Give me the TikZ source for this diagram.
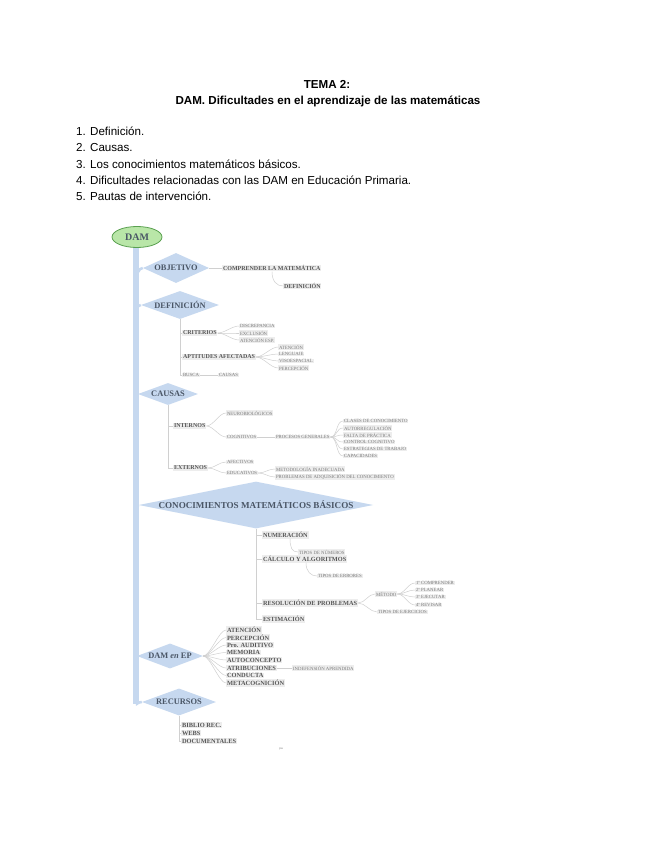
\documentclass[tikz,border=0pt]{standalone}
\usepackage{fontspec}
\setmainfont{Liberation Sans}
\newfontfamily\diafont{Liberation Serif}
\usetikzlibrary{shapes.geometric}
\definecolor{blueL}{HTML}{C6D8EF}
\definecolor{greenF}{HTML}{B9E6A8}
\definecolor{greenD}{HTML}{5AA050}
\definecolor{diatxt}{HTML}{4A5666}
\definecolor{lbfill}{HTML}{EDEDED}
\definecolor{lbtxt}{HTML}{555555}
\definecolor{lbtxtl}{HTML}{7A7A7A}
\definecolor{lncol}{HTML}{D0D0D0}
\newcommand\fanlink[2]{\draw[conn] (#1.east) .. controls +(7,0) and +(-7,0) .. (#2.west);}
\newcommand\stublink[2]{\draw[conn] (#1.south |- #2.west) -- (#2.west);}
\begin{document}
\begin{tikzpicture}[x=1pt,y=-1pt,
 head/.style={font=\fontsize{11.6}{13}\selectfont\bfseries, inner sep=0},
 item/.style={font=\fontsize{11.6}{13}\selectfont, anchor=west, inner sep=0},
 dia/.style={diamond, fill=blueL, draw=none, inner sep=0, text=diatxt, font=\diafont\bfseries\fontsize{8.4}{9}\selectfont},
 barbox/.style={rectangle, fill=blueL, draw=none, inner sep=0, minimum width=6.5},
 l1/.style={anchor=west, fill=lbfill, text=lbtxt, inner sep=0.8pt, font=\diafont\bfseries\fontsize{6}{7}\selectfont},
 l1b/.style={anchor=west, fill=lbfill, text=lbtxt, inner sep=0.8pt, font=\diafont\bfseries\fontsize{6.3}{7}\selectfont},
 l1c/.style={anchor=west, fill=lbfill, text=lbtxt, inner sep=0.8pt, font=\diafont\bfseries\fontsize{6.4}{7}\selectfont},
 l2/.style={anchor=west, fill=lbfill, text=lbtxtl, inner sep=0.8pt, font=\diafont\fontsize{4.8}{5}\selectfont},
 conn/.style={draw=lncol, line width=0.5pt},
 branch/.style={draw=blueL, line width=2.5pt},
]
\useasboundingbox[fill=white] (0,0) rectangle (655,848);

% header
\node[head] (t1) at (327,84) {TEMA 2:};
\node[head] (t2) at (328,101) {DAM. Dificultades en el aprendizaje de las matemáticas};
\node[item] (i1) at (76,131) {1. Definición.};
\node[item] (i2) at (76,147.5) {2. Causas.};
\node[item] (i3) at (76,164) {3. Los conocimientos matemáticos básicos.};
\node[item] (i4) at (76,180) {4. Dificultades relacionadas con las DAM en Educación Primaria.};
\node[item] (i5) at (76,196) {5. Pautas de intervención.};

% spine
\node[barbox, minimum height=457] (bar) at (136,475.5) {};
\node[ellipse, fill=greenF, draw=greenD, line width=0.8pt, minimum width=50, minimum height=21, inner sep=0, text=diatxt, font=\diafont\bfseries\fontsize{10}{11}\selectfont] (dam) at (137,237) {DAM};

% diamonds
\node[dia, shape aspect=2.2, minimum width=66, minimum height=30] (obj) at (176,268) {OBJETIVO};
\node[dia, shape aspect=2.7, minimum width=78, minimum height=28] (def) at (180,305) {DEFINICIÓN};
\node[dia, shape aspect=2.6, minimum width=60, minimum height=22] (cau) at (168,394) {CAUSAS};
\node[dia, shape aspect=5, minimum width=230, minimum height=46, font=\diafont\bfseries\fontsize{9.1}{10}\selectfont] (con) at (256,505) {CONOCIMIENTOS MATEMÁTICOS BÁSICOS};
\node[dia, shape aspect=2.67, minimum width=66, minimum height=25] (dep) at (170,656) {DAM \textit{en} EP};
\node[dia, shape aspect=2.77, minimum width=74, minimum height=27] (rec) at (179,702) {RECURSOS};

% branches from the spine
\draw[branch] (bar.center |- obj.south) .. controls +(0,-9) and +(-4,0) .. (obj.west);
\draw[branch] (bar.center |- def.south) .. controls +(0,-8) and +(-4,0) .. (def.west);
\draw[branch] (bar.center |- cau.south) .. controls +(0,-6) and +(-3,0) .. (cau.west);
\draw[branch] (bar.center |- con.south) .. controls +(0,-14) and +(-5,0) .. (con.west);
\draw[branch] (bar.center |- dep.south) .. controls +(0,-7) and +(-3,0) .. (dep.west);
\draw[branch] (bar.south) .. controls +(0,1) and +(-4,0) .. (rec.west);

% OBJETIVO
\node[l1] (ob1) at (222,268) {COMPRENDER LA MATEMÁTICA};
\node[l1] (ob2) at (283,286) {DEFINICIÓN};
\draw[conn] (obj.east) -- (ob1.west);
\draw[conn] ([xshift=50pt]ob1.south west) .. controls +(0,10) and +(-6,0) .. (ob2.west);

% DEFINICION
\node[l1] (cri) at (182,333) {CRITERIOS};
\node[l2] (cr1) at (239,326) {DISCREPANCIA};
\node[l2] (cr2) at (239,333) {EXCLUSIÓN};
\node[l2] (cr3) at (239,340) {ATENCIÓN ESP.};
\node[l1] (apt) at (182,357) {APTITUDES AFECTADAS};
\node[l2] (ap1) at (278,347) {ATENCIÓN};
\node[l2] (ap2) at (278,354) {LENGUAJE};
\node[l2] (ap3) at (278,361) {VISOESPACIAL};
\node[l2] (ap4) at (278,368) {PERCEPCIÓN};
\node[l2] (bus) at (182,375) {BUSCA};
\node[l2] (bca) at (218,375) {CAUSAS};
\draw[conn] (def.south) -- (def.south |- bus.west) -- (bus.west);
\stublink{def}{cri}
\stublink{def}{apt}
\fanlink{cri}{cr1}\fanlink{cri}{cr2}\fanlink{cri}{cr3}
\fanlink{apt}{ap1}\fanlink{apt}{ap2}\fanlink{apt}{ap3}\fanlink{apt}{ap4}
\draw[conn] (bus.east) -- (bca.west);

% CAUSAS
\node[l1] (int) at (173,426) {INTERNOS};
\node[l2] (neu) at (226,413) {NEUROBIOLÓGICOS};
\node[l2] (cog) at (226,437) {COGNITIVOS};
\node[l2] (pro) at (275,437) {PROCESOS GENERALES};
\node[l2] (p1) at (343,421) {CLASES DE CONOCIMIENTO};
\node[l2] (p2) at (343,428) {AUTORREGULACIÓN};
\node[l2] (p3) at (343,435) {FALTA DE PRÁCTICA};
\node[l2] (p4) at (343,442) {CONTROL COGNITIVO};
\node[l2] (p5) at (343,449) {ESTRATEGIAS DE TRABAJO};
\node[l2] (p6) at (343,456) {CAPACIDADES};
\node[l1] (ext) at (173,468) {EXTERNOS};
\node[l2] (afe) at (226,462) {AFECTIVOS};
\node[l2] (edu) at (226,473) {EDUCATIVOS};
\node[l2] (ed1) at (275,469) {METODOLOGÍA INADECUADA};
\node[l2] (ed2) at (275,477) {PROBLEMAS DE ADQUISICIÓN DEL CONOCIMIENTO};
\draw[conn] (cau.south) -- (cau.south |- ext.west) -- (ext.west);
\stublink{cau}{int}
\fanlink{int}{neu}\fanlink{int}{cog}
\draw[conn] (cog.east) -- (pro.west);
\fanlink{pro}{p1}\fanlink{pro}{p2}\fanlink{pro}{p3}\fanlink{pro}{p4}\fanlink{pro}{p5}\fanlink{pro}{p6}
\fanlink{ext}{afe}\fanlink{ext}{edu}
\fanlink{edu}{ed1}\fanlink{edu}{ed2}

% CONOCIMIENTOS
\node[l1b] (num) at (262,535) {NUMERACIÓN};
\node[l2] (tnu) at (298,552) {TIPOS DE NÚMEROS};
\node[l1b] (cal) at (262,559) {CÁLCULO Y ALGORITMOS};
\node[l2] (ter) at (317,576) {TIPOS DE ERRORES};
\node[l1b] (res) at (262,603) {RESOLUCIÓN DE PROBLEMAS};
\node[l2] (met) at (375,594) {MÉTODO};
\node[l2] (m1) at (415,583) {1º COMPRENDER};
\node[l2] (m2) at (415,590) {2º PLANEAR};
\node[l2] (m3) at (415,597) {3º EJECUTAR};
\node[l2] (m4) at (415,605) {4º REVISAR};
\node[l2] (tej) at (377,612) {TIPOS DE EJERCICIOS};
\node[l1b] (est) at (262,619) {ESTIMACIÓN};
\draw[conn] (con.south) -- (con.south |- est.west) -- (est.west);
\stublink{con}{num}
\stublink{con}{cal}
\stublink{con}{res}
\draw[conn] ([xshift=28pt]num.south west) .. controls +(0,9) and +(-6,0) .. (tnu.west);
\draw[conn] ([xshift=44pt]cal.south west) .. controls +(0,9) and +(-6,0) .. (ter.west);
\fanlink{res}{met}\fanlink{res}{tej}
\fanlink{met}{m1}\fanlink{met}{m2}\fanlink{met}{m3}\fanlink{met}{m4}

% DAM en EP
\node[l1c] (e1) at (226,630) {ATENCIÓN};
\node[l1c] (e2) at (226,637.5) {PERCEPCIÓN};
\node[l1c] (e3) at (226,645) {Pro. AUDITIVO};
\node[l1c] (e4) at (226,652.5) {MEMORIA};
\node[l1c] (e5) at (226,660) {AUTOCONCEPTO};
\node[l1c] (e6) at (226,668) {ATRIBUCIONES};
\node[l1c] (e7) at (226,675.5) {CONDUCTA};
\node[l1c] (e8) at (226,683) {METACOGNICIÓN};
\node[l2] (ind) at (292,668) {INDEFENSIÓN APRENDIDA};
\fanlink{dep}{e1}\fanlink{dep}{e2}\fanlink{dep}{e3}\fanlink{dep}{e4}
\fanlink{dep}{e5}\fanlink{dep}{e6}\fanlink{dep}{e7}\fanlink{dep}{e8}
\draw[conn] (e6.east) -- (ind.west);

% RECURSOS
\node[l1c] (r1) at (181,725) {BIBLIO REC.};
\node[l1c] (r2) at (181,733) {WEBS};
\node[l1c] (r3) at (181,741) {DOCUMENTALES};
\draw[conn] (rec.south) -- (rec.south |- r3.west) -- (r3.west);
\stublink{rec}{r1}
\stublink{rec}{r2}

\node[font=\fontsize{3}{3}\selectfont, text=gray, inner sep=0] (pg) at (281,749) {pa};
\end{tikzpicture}
\end{document}
